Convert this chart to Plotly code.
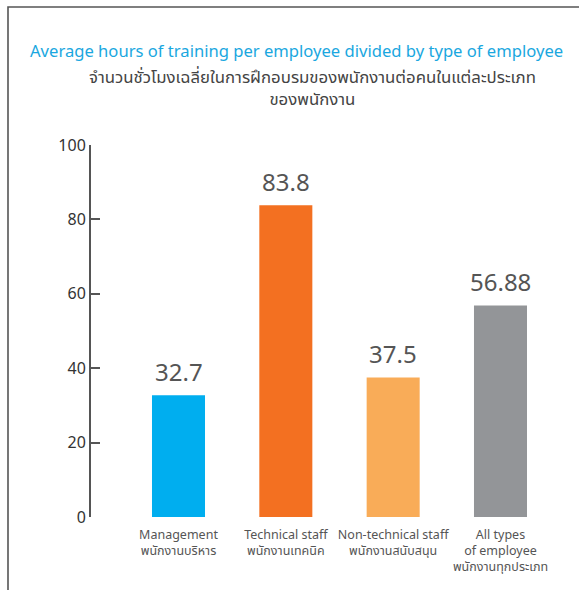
import plotly.graph_objects as go

categories = [
    "Management<br>พนักงานบริหาร",
    "Technical staff<br>พนักงานเทคนิค",
    "Non-technical staff<br>พนักงานสนับสนุน",
    "All types<br>of employee<br>พนักงานทุกประเภท",
]
values = [32.7, 83.8, 37.5, 56.88]
value_labels = ["32.7", "83.8", "37.5", "56.88"]
colors = ["#00AEEF", "#F37021", "#F9AC58", "#939598"]
y_ticks = [0, 20, 40, 60, 80, 100]

title_en = "Average hours of training per employee divided by type of employee"
title_th = "จำนวนชั่วโมงเฉลี่ยในการฝึกอบรมของพนักงานต่อคนในแต่ละประเภท<br>ของพนักงาน"

FONT = "Noto Sans, Noto Sans Thai, sans-serif"
W, H = 579, 590
L, R, T, B = 91, 19, 145, 73
pw = W - L - R
ph = H - T - B

def px_x(p):
    return (p - L) / pw

def px_y(p):
    return (H - B - p) / ph

x_idx = list(range(len(categories)))

fig = go.Figure()
fig.add_trace(go.Bar(
    x=x_idx, y=values, marker=dict(color=colors, line=dict(width=0)),
    width=0.494, hoverinfo="skip",
))

for i, (v, t) in enumerate(zip(values, value_labels)):
    fig.add_annotation(x=i, y=v, text=t, showarrow=False, xref="x", yref="y",
                       yanchor="middle", yshift=24,
                       font=dict(family=FONT, size=24, color="#555555"))

fig.add_annotation(x=px_x(296), y=px_y(50), xref="paper", yref="paper",
                   text=title_en, showarrow=False, xanchor="center", yanchor="middle",
                   font=dict(family=FONT, size=16.6, color="#1AA7E0"))
fig.add_annotation(x=px_x(312), y=px_y(88), xref="paper", yref="paper",
                   text=title_th, showarrow=False, xanchor="center", yanchor="middle",
                   font=dict(family=FONT, size=16.8, color="#444444"))

# frame (only top and left edges fall inside the picture)
fig.add_shape(type="rect", xref="paper", yref="paper", layer="above",
              x0=px_x(8), x1=px_x(W + 20), y0=px_y(7), y1=px_y(H + 20),
              line=dict(color="#555555", width=1.6), fillcolor="rgba(0,0,0,0)")

x0r = -(178.5 - L) / 107.33
fig.update_layout(
    width=W, height=H,
    margin=dict(l=L, r=R, t=T, b=B, pad=0, autoexpand=False),
    paper_bgcolor="white", plot_bgcolor="white",
    showlegend=False,
    xaxis=dict(range=[x0r, x0r + pw / 107.33], tickmode="array", tickvals=x_idx,
               ticktext=categories, showline=False, showgrid=False, zeroline=False,
               ticks="", tickangle=0, automargin=False, ticklabelstandoff=8,
               tickfont=dict(family=FONT, size=12.5, color="#555555")),
    yaxis=dict(range=[0, 100], tickmode="array", tickvals=y_ticks, automargin=False,
               showline=True, linecolor="#555555", linewidth=2,
               ticks="inside", ticklen=9, tickwidth=2, tickcolor="#555555",
               showgrid=False, zeroline=False,
               tickfont=dict(family=FONT, size=16, color="#333333")),
)
fig.write_html("out.html", config={"displayModeBar": False},
               post_script="document.body.style.margin='0';document.body.style.overflow='hidden';")
